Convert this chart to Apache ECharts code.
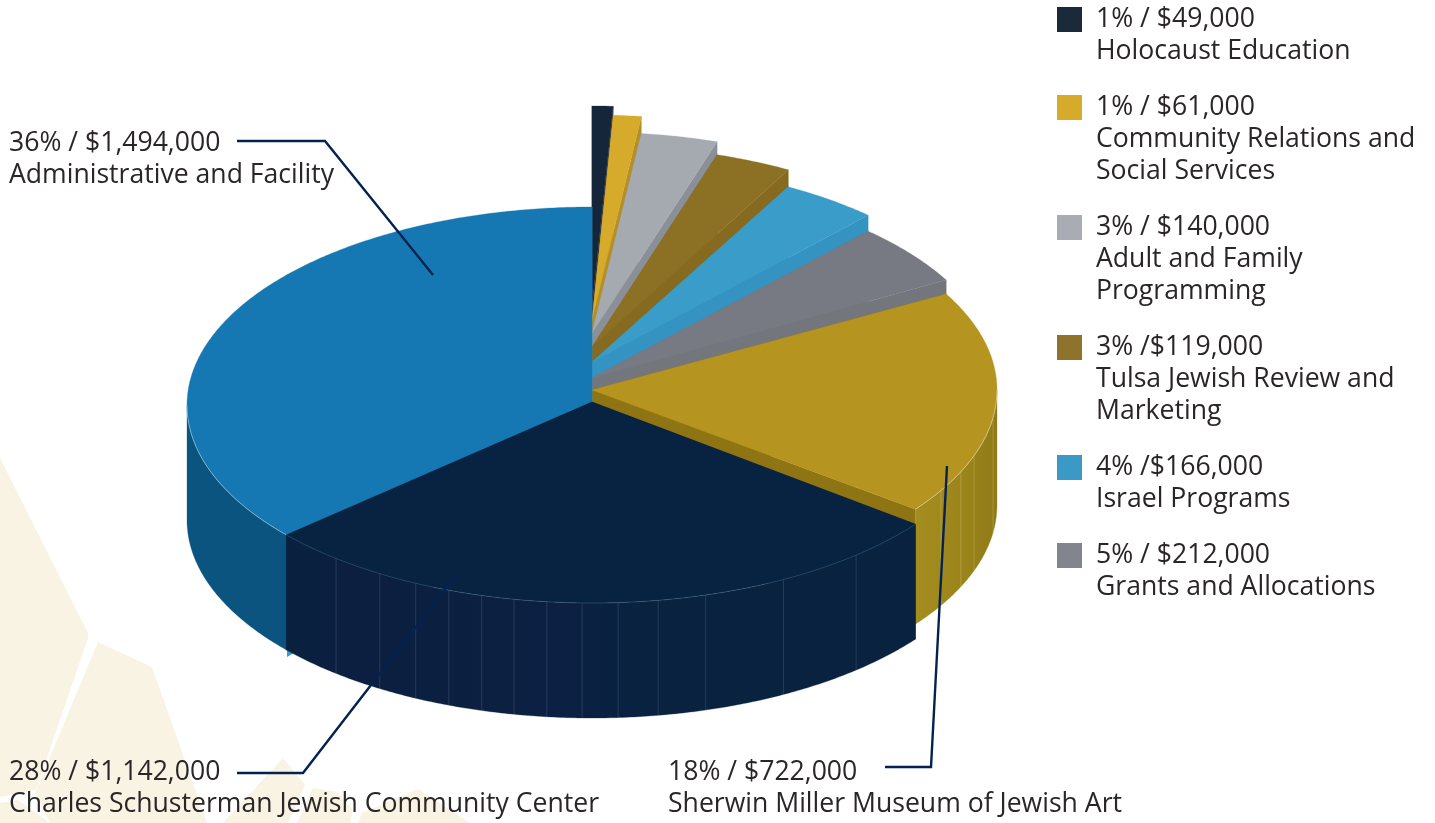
<!DOCTYPE html>
<html><head><meta charset="utf-8">
<style>html,body{margin:0;padding:0;background:#fff}#c{width:1435px;height:823px}</style>
<script src="https://cdn.jsdelivr.net/npm/echarts@6/dist/echarts.min.js"></script>
</head><body><div id="c"></div>
<script>
// Data
const categories = ['Holocaust Education','Community Relations and Social Services','Adult and Family Programming','Tulsa Jewish Review and Marketing','Israel Programs','Grants and Allocations','Sherwin Miller Museum of Jewish Art','Administrative and Facility','Charles Schusterman Jewish Community Center'];
const dollars = [49000,61000,140000,119000,166000,212000,722000,1494000,1142000];
// sweep of each slice as drawn in the picture, degrees
const sweepDegrees = [3,4,11,11,14,18,66,131,102];
// Presentation
const lift = [101,92,75,62,45,29,15,0,0];
const apexLift = [98,85,72,58,43,27,15,3,3];
const topColor = ['#15263a','#d6aa2b','#a5a9b0','#8c7125','#3a9dc9','#777a82','#b69420','#1578b2','#082242'];
const cutColor = ['#15263a','#b58f22','#8b9098','#856a20','#3493c1','#74767e','#8f7414','#3a9fc8','#082242'];
const wallColor = ['#15263a','#b58f22','#8b9098','#856a20','#3493c1','#74767e','#a18a1e','#0c5480','#0a2142'];
const facetDegrees = {6:[98,109.4,114.4,120.5],8:[139.3,151.8,163.7,170.6,176.3,181.4,186.4,191.1,195.8,200.7,205.8,211.6,219.2]};
const RY=198, DEPTH=115, CY_TOP=207, CX_LEFT=187, RX=405;

const legendItems = [
 {c:'#1a2a3a',y:18,t:['1% / $49,000','Holocaust Education']},
 {c:'#d6aa2b',y:106,t:['1% / $61,000','Community Relations and','Social Services']},
 {c:'#a9acb2',y:226,t:['3% / $140,000','Adult and Family','Programming']},
 {c:'#8f722c',y:346,t:['3% /$119,000','Tulsa Jewish Review and','Marketing']},
 {c:'#3a9ac5',y:466,t:['4% /$166,000','Israel Programs']},
 {c:'#82858d',y:554,t:['5% / $212,000','Grants and Allocations']}
];
const calloutItems = [
 {x:9,y:142,t:['36% / $1,494,000','Administrative and Facility'],line:[[237,141],[325,141],[433,275]]},
 {x:9,y:771,t:['28% / $1,142,000','Charles Schusterman Jewish Community Center'],line:[[237,773],[303,773],[456,575]]},
 {x:668,y:771,t:['18% / $722,000','Sherwin Miller Museum of Jewish Art'],line:[[885,767],[931,767],[947,466]]}
];
const backdrop = [
 [[0,458],[88,633],[88,638],[36,790],[0,797]],
 [[98,642],[152,667],[207,823],[50,823],[35,793]],
 [[283,758],[305,785],[288,823],[223,823]],
 [[313,788],[337,792],[353,810],[350,823],[297,823]],
 [[418,789],[362,813],[358,823],[470,823]],
 [[0,803],[18,800],[50,823],[0,823]]
];

let starts=[],acc=0;
const order=[0,1,2,3,4,5,6,8,7];
order.forEach(i=>{starts[i]=acc;acc+=sweepDegrees[i];});
const scale=360/acc;

function renderItem(params,api){
  const i=params.dataIndex, Z=i*10;
  const a0=starts[i]*scale, a1=(starts[i]+sweepDegrees[i])*scale;
  const up=lift[i]/RY, down=DEPTH/RY;
  const P=(deg,dy)=>{const t=deg*Math.PI/180;return api.coord([Math.sin(t),Math.cos(t)+up-(dy||0)]);};
  const A=(dy)=>api.coord([0,apexLift[i]/RY-(dy||0)]);
  const rim=[];
  for(let d=a0;d<a1;d+=0.5){rim.push(P(d));}
  rim.push(P(a1));
  const kids=[];
  const poly=(pts,fill,z)=>kids.push({type:'polygon',shape:{points:pts},style:{fill:fill,stroke:fill,lineWidth:0.3},silent:true,z2:Z+z});
  poly([A(),P(a0),P(a0,down),A(down)],cutColor[i],1);
  poly([A(),P(a1),P(a1,down),A(down)],cutColor[i],1);
  // outer wall: only the part of the rim that faces the viewer
  const w0=Math.max(a0,90), w1=Math.min(a1,270);
  if(w1>w0){
    const wt=[],wb=[];
    for(let d=w0;d<w1;d+=0.5){wt.push(P(d));wb.push(P(d,down));}
    wt.push(P(w1));wb.push(P(w1,down));
    let wf=wallColor[i];
    if(i===6) wf={type:'linear',x:0,y:0,x2:1,y2:0,colorStops:[{offset:0,color:'#a58d1f'},{offset:0.6,color:'#9a841b'},{offset:1,color:'#8f7a17'}]};
    if(i===8) wf={type:'linear',x:0,y:0,x2:1,y2:0,colorStops:[{offset:0,color:'#09213f'},{offset:0.1,color:'#0c1f41'},{offset:0.45,color:'#0b2042'},{offset:0.55,color:'#082240'},{offset:1,color:'#082240'}]};
    poly(wt.concat(wb.reverse()),wf,2);
  }
  (facetDegrees[i]||[]).forEach(d=>{const a=P(d),b=P(d,down);
    kids.push({type:'line',shape:{x1:a[0],y1:a[1],x2:b[0],y2:b[1]},style:{stroke:i===6?'rgba(255,240,170,0.22)':'rgba(190,205,225,0.16)',lineWidth:1},silent:true,z2:Z+3});});
  poly([A()].concat(rim),topColor[i],4);
  if(i>=6){
    const f=[];for(let d=a0;d<=a1;d+=0.5){if(d>=90&&d<=270)f.push(P(d));}
    if(f.length>1)kids.push({type:'polyline',shape:{points:f},style:{fill:'none',stroke:i===8?'rgba(150,190,225,0.22)':'rgba(255,255,255,0.4)',lineWidth:1},silent:true,z2:Z+5});
  }
  return {type:'group',children:kids};
}

const FONT='"Open Sans"';
const graphics=[];
backdrop.forEach(p=>graphics.push({type:'polygon',z:0,silent:true,shape:{points:p},style:{fill:'#f8f3e2'}}));
const textEl=(x,y,t)=>({type:'text',z:10,silent:true,x:x,y:y+1,style:{text:t,fill:'#2a2627',font:'26.6px '+FONT,verticalAlign:'middle'}});
legendItems.forEach(l=>{
  graphics.push({type:'rect',z:10,silent:true,shape:{x:1057,y:l.y-11,width:25,height:25},style:{fill:l.c}});
  l.t.forEach((s,k)=>graphics.push(textEl(1096,l.y+k*32,s)));
});
calloutItems.forEach(c=>{
  c.t.forEach((s,k)=>graphics.push(textEl(c.x,c.y+k*32,s)));
  graphics.push({type:'polyline',z:10,silent:true,shape:{points:c.line},style:{fill:'none',stroke:'#04224f',lineWidth:2.4}});
});
graphics.push({type:'polygon',z:1,silent:true,shape:{points:[[287,650],[294,653],[287,657]]},style:{fill:'#3a9fc8'}});

const chart=echarts.init(document.getElementById('c'));
chart.setOption({
  animation:false,backgroundColor:'#fff',
  grid:{left:CX_LEFT,top:CY_TOP,width:RX*2,height:RY*2},
  xAxis:{type:'value',min:-1,max:1,show:false},
  yAxis:{type:'value',min:-1,max:1,show:false},
  graphic:graphics,
  series:[{type:'custom',coordinateSystem:'cartesian2d',clip:false,z:2,silent:true,renderItem:renderItem,
    encode:{x:0,y:1},data:dollars.map((v,i)=>({name:categories[i],value:[0,0,v]}))}]
});
</script></body></html>
